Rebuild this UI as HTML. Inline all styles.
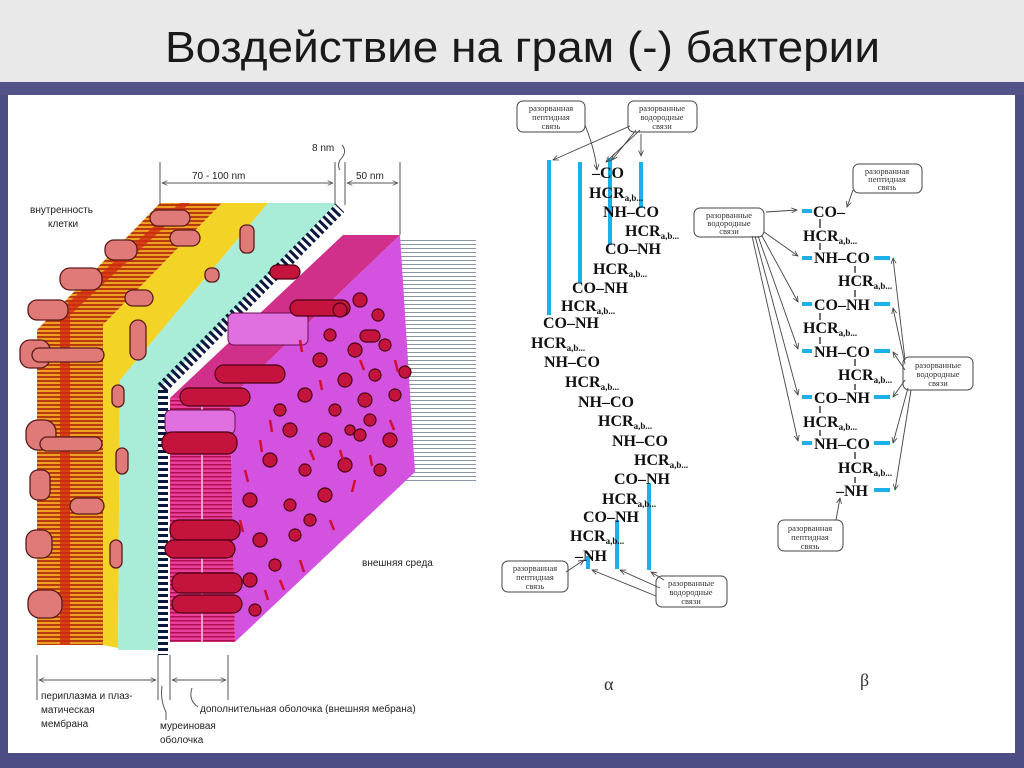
<!DOCTYPE html>
<html><head><meta charset="utf-8">
<style>
html,body{margin:0;padding:0;width:1024px;height:768px;overflow:hidden;background:#4d4d86;}
svg{display:block}
.c{font-family:"Liberation Serif","DejaVu Serif",serif;font-weight:bold;font-size:16px;fill:#111}
.s{font-size:9px}
.lb{font-family:"Liberation Serif",serif;font-size:8.5px;fill:#333;text-anchor:middle}
.sl{font-family:"Liberation Sans",sans-serif;font-size:10px;fill:#222}
</style></head><body>
<svg width="1024" height="768" viewBox="0 0 1024 768" xmlns="http://www.w3.org/2000/svg">
<defs>
<pattern id="or" width="4" height="4" patternUnits="userSpaceOnUse"><rect width="4" height="4" fill="#f0a020"/><rect width="4" height="2" fill="#b83a10"/></pattern>
<pattern id="pk" width="4" height="4" patternUnits="userSpaceOnUse"><rect width="4" height="4" fill="#e8409a"/><rect width="4" height="1.5" fill="#b01050"/></pattern>
<pattern id="gl" width="6" height="4" patternUnits="userSpaceOnUse"><rect width="6" height="4" fill="#fff"/><rect width="6" height="1" fill="#8896aa"/></pattern>
<marker id="ar" viewBox="0 0 10 10" refX="9" refY="5" markerWidth="7" markerHeight="7" orient="auto"><path d="M0,1 L9,5 L0,9" fill="none" stroke="#444" stroke-width="1.3"/></marker>
<marker id="da" viewBox="0 0 10 10" refX="9" refY="5" markerWidth="6" markerHeight="6" orient="auto-start-reverse"><path d="M0,1 L9,5 L0,9" fill="none" stroke="#555" stroke-width="1.2"/></marker>
</defs>
<rect x="0" y="0" width="1024" height="82" fill="#e9e9e9"/>
<rect x="0" y="82" width="1024" height="13" fill="#53538a"/>
<rect x="8" y="95" width="1007" height="658" fill="#fff"/>
<text x="165" y="62" textLength="715" lengthAdjust="spacingAndGlyphs" font-family="Liberation Sans, sans-serif" font-size="44" fill="#1a1a1a">Воздействие на грам (-) бактерии</text>

<rect x="400" y="238" width="76" height="245" fill="url(#gl)"/>
<polygon points="37,645 37,330 160,203 222,203 103,325 103,645" fill="url(#or)"/>
<polygon points="60,645 60,310 180,203 190,203 70,315 70,645" fill="#d02a10" opacity="0.8"/>
<polygon points="103,645 103,325 222,203 268,203 120,380 118,648" fill="#f3d426"/>
<polygon points="118,650 120,380 268,203 337,203 158,390 158,650" fill="#a9ecd8"/>
<line x1="162" y1="388" x2="340" y2="208" stroke="#0a1840" stroke-width="12" stroke-dasharray="3 3"/>
<line x1="163" y1="390" x2="163" y2="655" stroke="#0a1840" stroke-width="10" stroke-dasharray="3 3"/>
<polygon points="170,398 343,235 400,235 230,398" fill="#d0308a"/>
<polygon points="230,398 400,235 415,472 235,642" fill="#d352e0"/>
<polygon points="170,398 230,398 235,642 170,642" fill="url(#pk)"/>
<line x1="202" y1="400" x2="202" y2="642" stroke="#f0a0d0" stroke-width="2"/>
<g fill="#e07a78" stroke="#5a1a1a" stroke-width="1.3">
<rect x="20" y="340" width="30" height="28" rx="10"/><rect x="32" y="348" width="72" height="14" rx="7"/>
<rect x="28" y="300" width="40" height="20" rx="9"/><rect x="60" y="268" width="42" height="22" rx="10"/>
<rect x="105" y="240" width="32" height="20" rx="9"/><rect x="150" y="210" width="40" height="16" rx="8"/>
<rect x="170" y="230" width="30" height="16" rx="8"/><rect x="125" y="290" width="28" height="16" rx="8"/>
<rect x="130" y="320" width="16" height="40" rx="8"/><rect x="240" y="225" width="14" height="28" rx="6"/>
<rect x="26" y="420" width="30" height="30" rx="12"/><rect x="40" y="437" width="62" height="14" rx="7"/>
<rect x="30" y="470" width="20" height="30" rx="8"/><rect x="70" y="498" width="34" height="16" rx="8"/>
<rect x="26" y="530" width="26" height="28" rx="10"/><rect x="28" y="590" width="34" height="28" rx="12"/>
<rect x="116" y="448" width="12" height="26" rx="6"/><rect x="110" y="540" width="12" height="28" rx="6"/>
<rect x="112" y="385" width="12" height="22" rx="6"/><rect x="205" y="268" width="14" height="14" rx="6"/>
</g>
<rect x="228" y="313" width="80" height="32" rx="6" fill="#e070e0" stroke="#6a1050"/>
<rect x="165" y="410" width="70" height="24" rx="6" fill="#e070e0" stroke="#6a1050"/>
<g fill="#c4143e" stroke="#4a0010" stroke-width="1.2">
<rect x="290" y="300" width="60" height="16" rx="8"/><rect x="215" y="365" width="70" height="18" rx="9"/>
<rect x="180" y="388" width="70" height="18" rx="9"/><rect x="162" y="432" width="75" height="22" rx="10"/>
<rect x="170" y="520" width="70" height="20" rx="9"/><rect x="165" y="540" width="70" height="18" rx="9"/>
<rect x="172" y="573" width="70" height="20" rx="9"/><rect x="172" y="595" width="70" height="18" rx="9"/>
<rect x="270" y="265" width="30" height="14" rx="7"/><rect x="360" y="330" width="20" height="12" rx="6"/>
<circle cx="340" cy="310" r="7"/><circle cx="360" cy="300" r="7"/><circle cx="378" cy="315" r="6"/><circle cx="330" cy="335" r="6"/>
<circle cx="355" cy="350" r="7"/><circle cx="385" cy="345" r="6"/><circle cx="320" cy="360" r="7"/><circle cx="345" cy="380" r="7"/>
<circle cx="375" cy="375" r="6"/><circle cx="305" cy="395" r="7"/><circle cx="335" cy="410" r="6"/><circle cx="365" cy="400" r="7"/>
<circle cx="395" cy="395" r="6"/><circle cx="290" cy="430" r="7"/><circle cx="325" cy="440" r="7"/><circle cx="360" cy="435" r="6"/>
<circle cx="390" cy="440" r="7"/><circle cx="270" cy="460" r="7"/><circle cx="305" cy="470" r="6"/><circle cx="345" cy="465" r="7"/>
<circle cx="380" cy="470" r="6"/><circle cx="250" cy="500" r="7"/><circle cx="290" cy="505" r="6"/><circle cx="325" cy="495" r="7"/>
<circle cx="260" cy="540" r="7"/><circle cx="295" cy="535" r="6"/><circle cx="250" cy="580" r="7"/><circle cx="275" cy="565" r="6"/>
<circle cx="255" cy="610" r="6"/><circle cx="405" cy="372" r="6"/><circle cx="280" cy="410" r="6"/>
<circle cx="310" cy="520" r="6"/><circle cx="350" cy="430" r="5"/><circle cx="370" cy="420" r="6"/>
</g>
<g stroke="#d01030" stroke-width="2.5">
<line x1="300" y1="340" x2="302" y2="352"/><line x1="270" y1="420" x2="272" y2="432"/><line x1="310" y1="450" x2="314" y2="460"/>
<line x1="355" y1="480" x2="352" y2="492"/><line x1="245" y1="470" x2="248" y2="482"/><line x1="280" y1="580" x2="284" y2="590"/>
<line x1="330" y1="520" x2="334" y2="530"/><line x1="390" y1="420" x2="394" y2="430"/><line x1="240" y1="520" x2="243" y2="532"/>
<line x1="360" y1="360" x2="364" y2="370"/><line x1="395" y1="360" x2="398" y2="372"/><line x1="300" y1="560" x2="304" y2="572"/>
<line x1="260" y1="440" x2="262" y2="452"/><line x1="340" y1="450" x2="343" y2="460"/><line x1="370" y1="455" x2="372" y2="466"/>
<line x1="265" y1="590" x2="268" y2="600"/><line x1="320" y1="380" x2="322" y2="390"/>
</g>
<g stroke="#555" stroke-width="1" fill="none">
<line x1="160" y1="162" x2="160" y2="205"/><line x1="335" y1="162" x2="335" y2="205"/><line x1="345" y1="162" x2="345" y2="205"/><line x1="400" y1="162" x2="400" y2="235"/>
<line x1="162" y1="183" x2="333" y2="183" marker-start="url(#da)" marker-end="url(#da)"/>
<line x1="347" y1="183" x2="398" y2="183" marker-start="url(#da)" marker-end="url(#da)"/>
<path d="M342,145 Q348,152 340,160 Q337,166 340,170"/>
<line x1="37" y1="655" x2="37" y2="700"/><line x1="158" y1="655" x2="158" y2="700"/><line x1="170" y1="655" x2="170" y2="700"/><line x1="228" y1="655" x2="228" y2="700"/>
<line x1="39" y1="680" x2="156" y2="680" marker-start="url(#da)" marker-end="url(#da)"/>
<line x1="172" y1="680" x2="226" y2="680" marker-start="url(#da)" marker-end="url(#da)"/>
<path d="M162,686 Q160,700 166,712 L166,720"/><path d="M192,688 Q188,700 198,707"/>
</g>
<g class="sl">
<text x="312" y="151">8 nm</text><text x="192" y="179">70 - 100 nm</text><text x="356" y="179">50 nm</text>
<text x="30" y="213">внутренность</text><text x="48" y="227">клетки</text>
<text x="362" y="566">внешняя среда</text>
<text x="41" y="699">периплазма и плаз-</text><text x="41" y="713">матическая</text><text x="41" y="727">мембрана</text>
<text x="160" y="729">муреиновая</text><text x="160" y="743">оболочка</text>
<text x="200" y="712">дополнительная оболочка (внешняя мебрана)</text>
</g>

<g stroke="#1ab0e8" stroke-width="4">
<line x1="549" y1="160" x2="549" y2="315"/><line x1="580" y1="162" x2="580" y2="283"/>
<line x1="610" y1="158" x2="610" y2="245"/><line x1="641" y1="162" x2="641" y2="208"/>
<line x1="588" y1="556" x2="588" y2="569"/><line x1="617" y1="520" x2="617" y2="569"/><line x1="649" y1="483" x2="649" y2="570"/>
</g>
<g class="c">
<text x="592" y="178">–CO</text>
<text x="589" y="198">HCR<tspan class="s" dy="3">a,b...</tspan></text>
<text x="603" y="217">NH–CO</text>
<text x="625" y="236">HCR<tspan class="s" dy="3">a,b...</tspan></text>
<text x="605" y="254">CO–NH</text>
<text x="593" y="274">HCR<tspan class="s" dy="3">a,b...</tspan></text>
<text x="572" y="293">CO–NH</text>
<text x="561" y="311">HCR<tspan class="s" dy="3">a,b...</tspan></text>
<text x="543" y="328">CO–NH</text>
<text x="531" y="348">HCR<tspan class="s" dy="3">a,b...</tspan></text>
<text x="544" y="367">NH–CO</text>
<text x="565" y="387">HCR<tspan class="s" dy="3">a,b...</tspan></text>
<text x="578" y="407">NH–CO</text>
<text x="598" y="426">HCR<tspan class="s" dy="3">a,b...</tspan></text>
<text x="612" y="446">NH–CO</text>
<text x="634" y="465">HCR<tspan class="s" dy="3">a,b...</tspan></text>
<text x="614" y="484">CO–NH</text>
<text x="602" y="504">HCR<tspan class="s" dy="3">a,b...</tspan></text>
<text x="583" y="522">CO–NH</text>
<text x="570" y="541">HCR<tspan class="s" dy="3">a,b...</tspan></text>
<text x="575" y="561">–NH</text>
</g>
<g fill="#fff" stroke="#444" stroke-width="1">
<rect x="517" y="101" width="68" height="31" rx="6"/><rect x="628" y="101" width="69" height="31" rx="6"/>
<rect x="502" y="561" width="66" height="31" rx="6"/><rect x="656" y="576" width="71" height="31" rx="6"/>
</g>
<g class="lb">
<text x="551" y="111">разорванная</text><text x="551" y="120">пептидная</text><text x="551" y="129">связь</text>
<text x="662" y="111">разорванные</text><text x="662" y="120">водородные</text><text x="662" y="129">связи</text>
<text x="535" y="571">разорванная</text><text x="535" y="580">пептидная</text><text x="535" y="589">связь</text>
<text x="691" y="586">разорванные</text><text x="691" y="595">водородные</text><text x="691" y="604">связи</text>
</g>
<g stroke="#444" stroke-width="0.9" fill="none" marker-end="url(#ar)">
<path d="M585,125 Q595,150 597,170"/>
<line x1="630" y1="126" x2="553" y2="160"/><line x1="640" y1="130" x2="606" y2="162"/><line x1="636" y1="130" x2="612" y2="160"/>
<line x1="641" y1="134" x2="641" y2="156"/>
<line x1="566" y1="572" x2="584" y2="560"/>
<line x1="656" y1="596" x2="592" y2="570"/><line x1="660" y1="588" x2="620" y2="570"/><line x1="664" y1="580" x2="651" y2="572"/>
</g>
<text x="604" y="690" font-family="Liberation Serif,serif" font-size="18" fill="#333">α</text>

<g stroke="#1ab0e8" stroke-width="4">
<line x1="802" y1="211" x2="812" y2="211"/>
<line x1="802" y1="258" x2="812" y2="258"/><line x1="874" y1="258" x2="890" y2="258"/>
<line x1="802" y1="304" x2="812" y2="304"/><line x1="874" y1="304" x2="890" y2="304"/>
<line x1="802" y1="351" x2="812" y2="351"/><line x1="874" y1="351" x2="890" y2="351"/>
<line x1="802" y1="397" x2="812" y2="397"/><line x1="874" y1="397" x2="890" y2="397"/>
<line x1="802" y1="443" x2="812" y2="443"/><line x1="874" y1="443" x2="890" y2="443"/>
<line x1="874" y1="490" x2="890" y2="490"/>
</g>
<g class="c">
<text x="813" y="217">CO–</text>
<text x="803" y="241">HCR<tspan class="s" dy="3">a,b...</tspan></text>
<text x="814" y="263">NH–CO</text>
<text x="838" y="286">HCR<tspan class="s" dy="3">a,b...</tspan></text>
<text x="814" y="310">CO–NH</text>
<text x="803" y="333">HCR<tspan class="s" dy="3">a,b...</tspan></text>
<text x="814" y="357">NH–CO</text>
<text x="838" y="380">HCR<tspan class="s" dy="3">a,b...</tspan></text>
<text x="814" y="403">CO–NH</text>
<text x="803" y="427">HCR<tspan class="s" dy="3">a,b...</tspan></text>
<text x="814" y="449">NH–CO</text>
<text x="838" y="473">HCR<tspan class="s" dy="3">a,b...</tspan></text>
<text x="836" y="496">–NH</text>
</g>
<g stroke="#111" stroke-width="1.2">
<line x1="820" y1="219" x2="820" y2="228"/><line x1="820" y1="243" x2="820" y2="250"/>
<line x1="855" y1="266" x2="855" y2="273"/><line x1="855" y1="290" x2="855" y2="297"/>
<line x1="820" y1="313" x2="820" y2="320"/><line x1="820" y1="337" x2="820" y2="344"/>
<line x1="855" y1="359" x2="855" y2="366"/><line x1="855" y1="384" x2="855" y2="390"/>
<line x1="820" y1="406" x2="820" y2="413"/><line x1="820" y1="430" x2="820" y2="436"/>
<line x1="855" y1="452" x2="855" y2="459"/><line x1="855" y1="477" x2="855" y2="483"/>
</g>
<g fill="#fff" stroke="#444" stroke-width="1">
<rect x="853" y="164" width="69" height="29" rx="6"/><rect x="694" y="208" width="70" height="29" rx="6"/>
<rect x="903" y="357" width="70" height="33" rx="6"/><rect x="778" y="520" width="65" height="31" rx="6"/>
</g>
<g class="lb">
<text x="887" y="174">разорванная</text><text x="887" y="182">пептидная</text><text x="887" y="190">связь</text>
<text x="729" y="218">разорванные</text><text x="729" y="226">водородные</text><text x="729" y="234">связи</text>
<text x="938" y="368">разорванные</text><text x="938" y="377">водородные</text><text x="938" y="386">связи</text>
<text x="810" y="531">разорванная</text><text x="810" y="540">пептидная</text><text x="810" y="549">связь</text>
</g>
<g stroke="#444" stroke-width="0.9" fill="none" marker-end="url(#ar)">
<line x1="766" y1="212" x2="797" y2="210"/><line x1="853" y1="190" x2="847" y2="207"/>
<line x1="764" y1="232" x2="798" y2="256"/><line x1="762" y1="236" x2="798" y2="302"/><line x1="758" y1="236" x2="798" y2="349"/>
<line x1="755" y1="236" x2="798" y2="395"/><line x1="752" y1="236" x2="798" y2="441"/>
<line x1="905" y1="360" x2="893" y2="258"/><line x1="905" y1="364" x2="893" y2="308"/><line x1="905" y1="370" x2="893" y2="352"/>
<line x1="905" y1="380" x2="893" y2="397"/><line x1="908" y1="388" x2="893" y2="443"/><line x1="911" y1="390" x2="895" y2="490"/>
<line x1="836" y1="520" x2="840" y2="498"/>
</g>
<text x="860" y="686" font-family="Liberation Serif,serif" font-size="18" fill="#333">β</text>
</svg>
</body></html>
